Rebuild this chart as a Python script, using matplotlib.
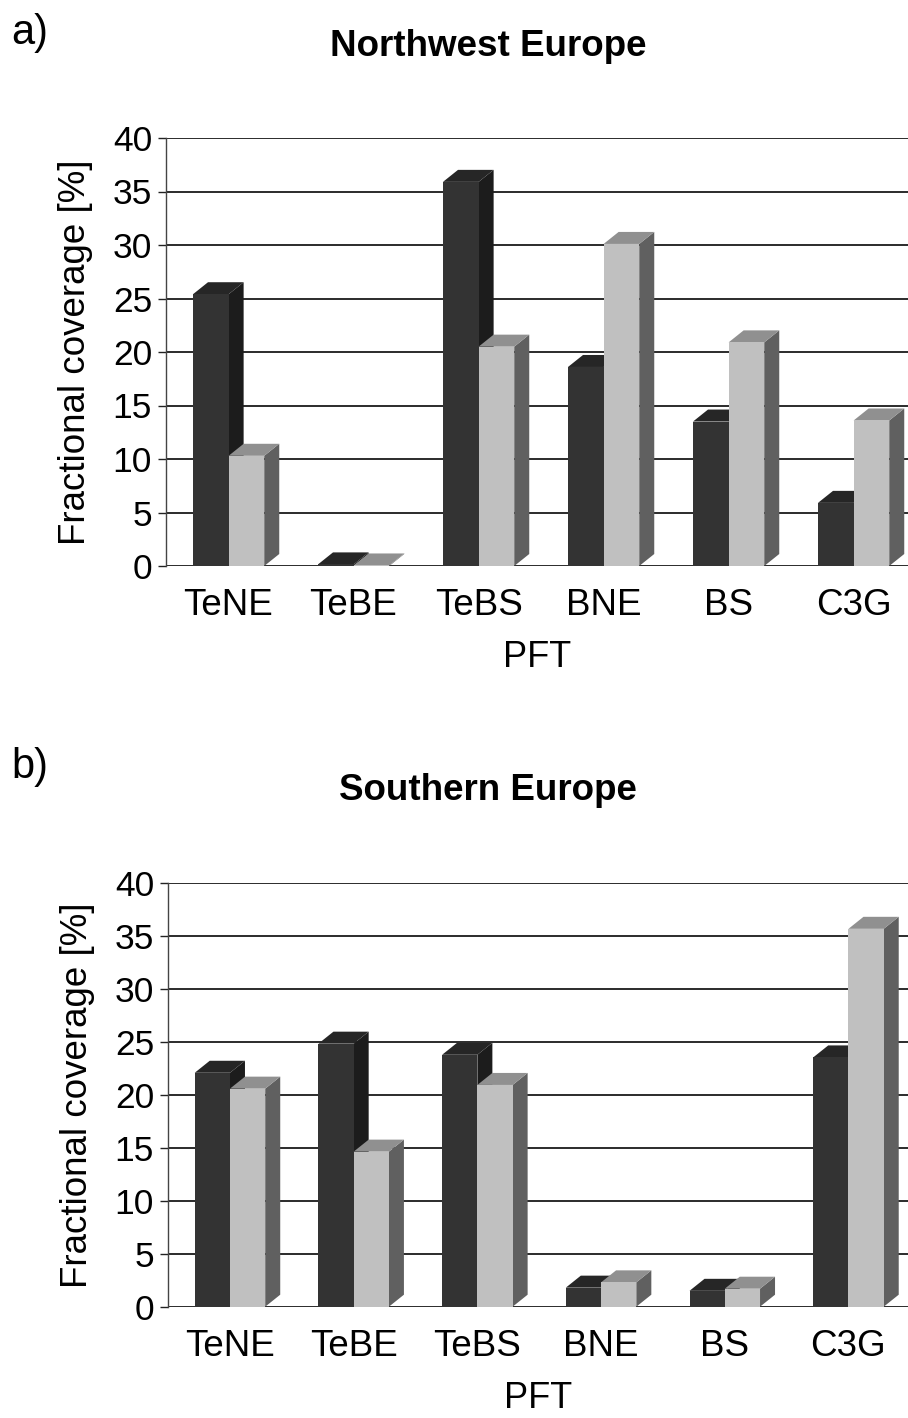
"""
Fractional coverage of plant functional types, two regions,
drawn as pseudo-3D paired bars.
"""

import matplotlib.pyplot as plt
from matplotlib.patches import Polygon

plt.rcParams['font.family'] = ['Liberation Sans', 'DejaVu Sans']

# Data
pfts = ['TeNE', 'TeBE', 'TeBS', 'BNE', 'BS', 'C3G']
yticks = [0, 5, 10, 15, 20, 25, 30, 35, 40]

nw_dark = [25.4, 0.15, 35.9, 18.6, 13.5, 5.9]
nw_light = [10.3, 0.05, 20.5, 30.1, 20.9, 13.6]

south_dark = [22.1, 24.85, 23.8, 1.8, 1.5, 23.55]
south_light = [20.6, 14.65, 20.95, 2.3, 1.7, 35.7]

# colours: front, top, side
DARK = ('#333333', '#262626', '#1c1c1c')
LIGHT = ('#c0c0c0', '#909090', '#606060')

W, H = 908, 1418
BAR_W = 0.285
OFFSET = 0.216
DEPTH_PX = (15, 12)


def depth_in_data(ax):
    x0, y0 = ax.transData.transform((0, 0))
    return ax.transData.inverted().transform((x0 + DEPTH_PX[0], y0 + DEPTH_PX[1]))


def bar3d(ax, x, h, colours, dx, dy):
    front, top, side = colours
    ax.add_patch(Polygon([(x + BAR_W, 0), (x + BAR_W + dx, dy),
                          (x + BAR_W + dx, h + dy), (x + BAR_W, h)],
                         closed=True, fc=side, ec='none', zorder=3))
    ax.add_patch(Polygon([(x, h), (x + BAR_W, h), (x + BAR_W + dx, h + dy),
                          (x + dx, h + dy)],
                         closed=True, fc=top, ec='none', zorder=3))
    ax.bar(x, h, width=BAR_W, align='edge', color=front, zorder=3)


def panel(rect, xmax, dark, light, title, letter, title_y, letter_y):
    ax = fig.add_axes(rect)
    ax.set_xlim(0, xmax)
    ax.set_ylim(0, 40)
    dx, dy = depth_in_data(ax)

    for i in range(len(pfts)):
        bar3d(ax, i + OFFSET, dark[i], DARK, dx, dy)
        bar3d(ax, i + OFFSET + BAR_W, light[i], LIGHT, dx, dy)

    ax.set_yticks(yticks)
    ax.set_yticklabels([str(t) for t in yticks], fontsize=25.5)
    ax.set_xticks([i + 0.5 for i in range(len(pfts))])
    ax.set_xticklabels(pfts, fontsize=26.5)
    ax.tick_params(axis='x', length=0, pad=16)
    ax.tick_params(axis='y', length=6, width=1.0, color='#222222', pad=4)

    ax.grid(axis='y', color='#1a1a1a', linewidth=1.3, zorder=0)
    ax.set_axisbelow(True)
    for s in ['top', 'right', 'bottom']:
        ax.spines[s].set_visible(False)
    ax.spines['left'].set_color('#444444')
    ax.spines['left'].set_linewidth(1.0)

    ax.set_ylabel('Fractional coverage [%]', fontsize=26.5, labelpad=14)
    ax.set_xlabel('PFT', fontsize=26, labelpad=12)

    fig.text(488 / W, 1 - title_y / H, title, fontsize=26.5, fontweight='bold',
             ha='center', va='center')
    fig.text(11 / W, 1 - letter_y / H, letter, fontsize=30,
             ha='left', va='center')
    return ax


fig = plt.figure(figsize=(W / 100, H / 100), dpi=100)

panel([166 / W, 1 - 566 / H, (W - 166) / W, (566 - 138) / H], 742 / 125,
      nw_dark, nw_light, 'Northwest Europe', 'a)', 47, 33)
panel([168 / W, 1 - 1306.7 / H, (W - 168) / W, (1306.7 - 883.3) / H], 740 / 123.7,
      south_dark, south_light, 'Southern Europe', 'b)', 790, 767)

fig.savefig('out.png', dpi=100)
